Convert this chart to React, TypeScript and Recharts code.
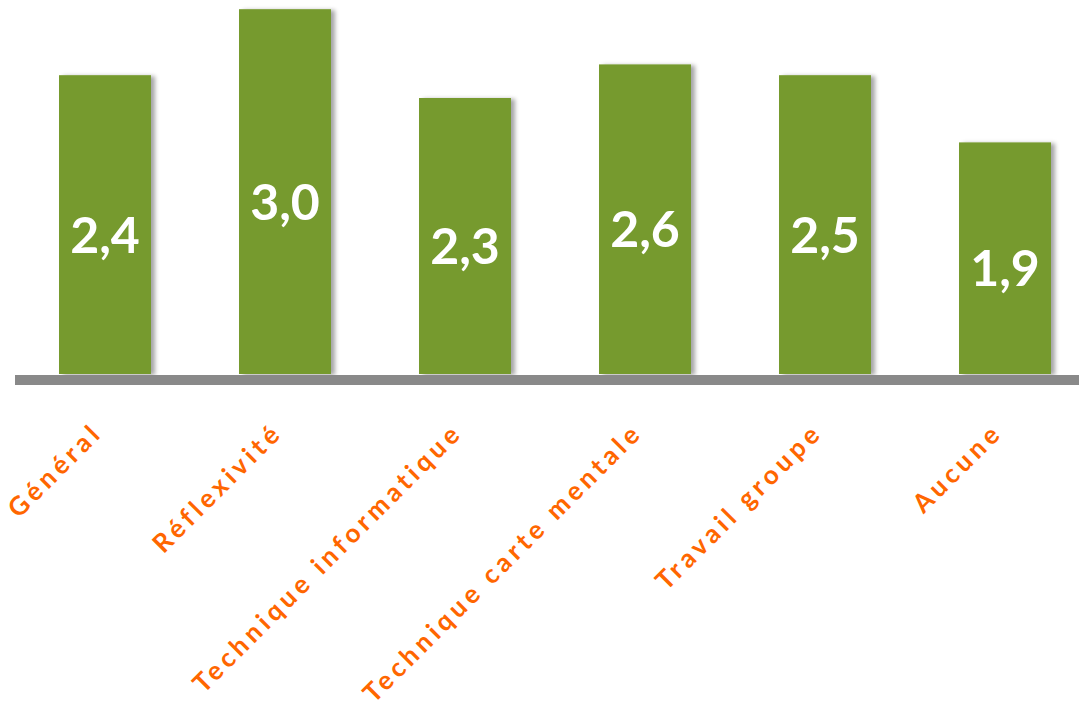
import { BarChart, Bar, XAxis, YAxis, LabelList } from "recharts";

// categories and scores
const categories = [
  "Général",
  "Réflexivité",
  "Technique informatique",
  "Technique carte mentale",
  "Travail groupe",
  "Aucune",
];
// bar heights as drawn
const scores = [2.49, 3.04, 2.3, 2.58, 2.49, 1.93];
// the value printed on each bar
const printed = ["2,4", "3,0", "2,3", "2,6", "2,5", "1,9"];

const data = categories.map((name, i) => ({ name, score: scores[i], printed: printed[i] }));

const GREEN = "#769A2D";
const ORANGE = "#FF6600";
const FONT = "Lato, 'Open Sans', sans-serif";

const CategoryTick = (props: any) => {
  const { x, y, payload } = props;
  return (
    <g transform={`translate(${x - 1},${y + 52})`}>
      <text
        transform="rotate(-45)"
        textAnchor="end"
        fill={ORANGE}
        fontFamily={FONT}
        fontWeight={700}
        fontSize={26}
        letterSpacing={4.3}
      >
        {payload.value}
      </text>
    </g>
  );
};

const ValueLabel = (props: any) => {
  const { x, y, width, height, value } = props;
  return (
    <text
      x={x + width / 2}
      y={y + height / 2 + 9}
      textAnchor="middle"
      dominantBaseline="central"
      fill="#ffffff"
      fontFamily={FONT}
      fontWeight={700}
      fontSize={50}
    >
      {value}
    </text>
  );
};

const ShadowBar = (props: any) => {
  const { x, y, width, height } = props;
  return <rect x={x} y={y} width={width} height={height} fill={GREEN} filter="url(#barShadow)" />;
};

export default function App() {
  return (
    <div
      style={{
        position: "absolute",
        left: 0,
        top: 0,
        width: 1079,
        height: 709,
        overflow: "hidden",
        background: "#ffffff",
      }}
    >
      <BarChart
        width={1100}
        height={709}
        data={data}
        margin={{ top: 2, right: 5, bottom: 15, left: 15 }}
        barCategoryGap={0}
      >
        <defs>
          <filter id="barShadow" x="-10%" y="-5%" width="130%" height="110%">
            <feDropShadow dx={4} dy={1} stdDeviation={2} floodColor="#000000" floodOpacity={0.35} />
          </filter>
        </defs>
        <YAxis hide domain={[0, 3.1]} />
        <XAxis
          dataKey="name"
          interval={0}
          height={320}
          tickLine={false}
          axisLine={{ stroke: "#898989", strokeWidth: 10, transform: "translate(0,6)" }}
          tick={<CategoryTick />}
        />
        <Bar dataKey="score" barSize={92} shape={<ShadowBar />} isAnimationActive={false}>
          <LabelList dataKey="printed" content={<ValueLabel />} />
        </Bar>
      </BarChart>
    </div>
  );
}
